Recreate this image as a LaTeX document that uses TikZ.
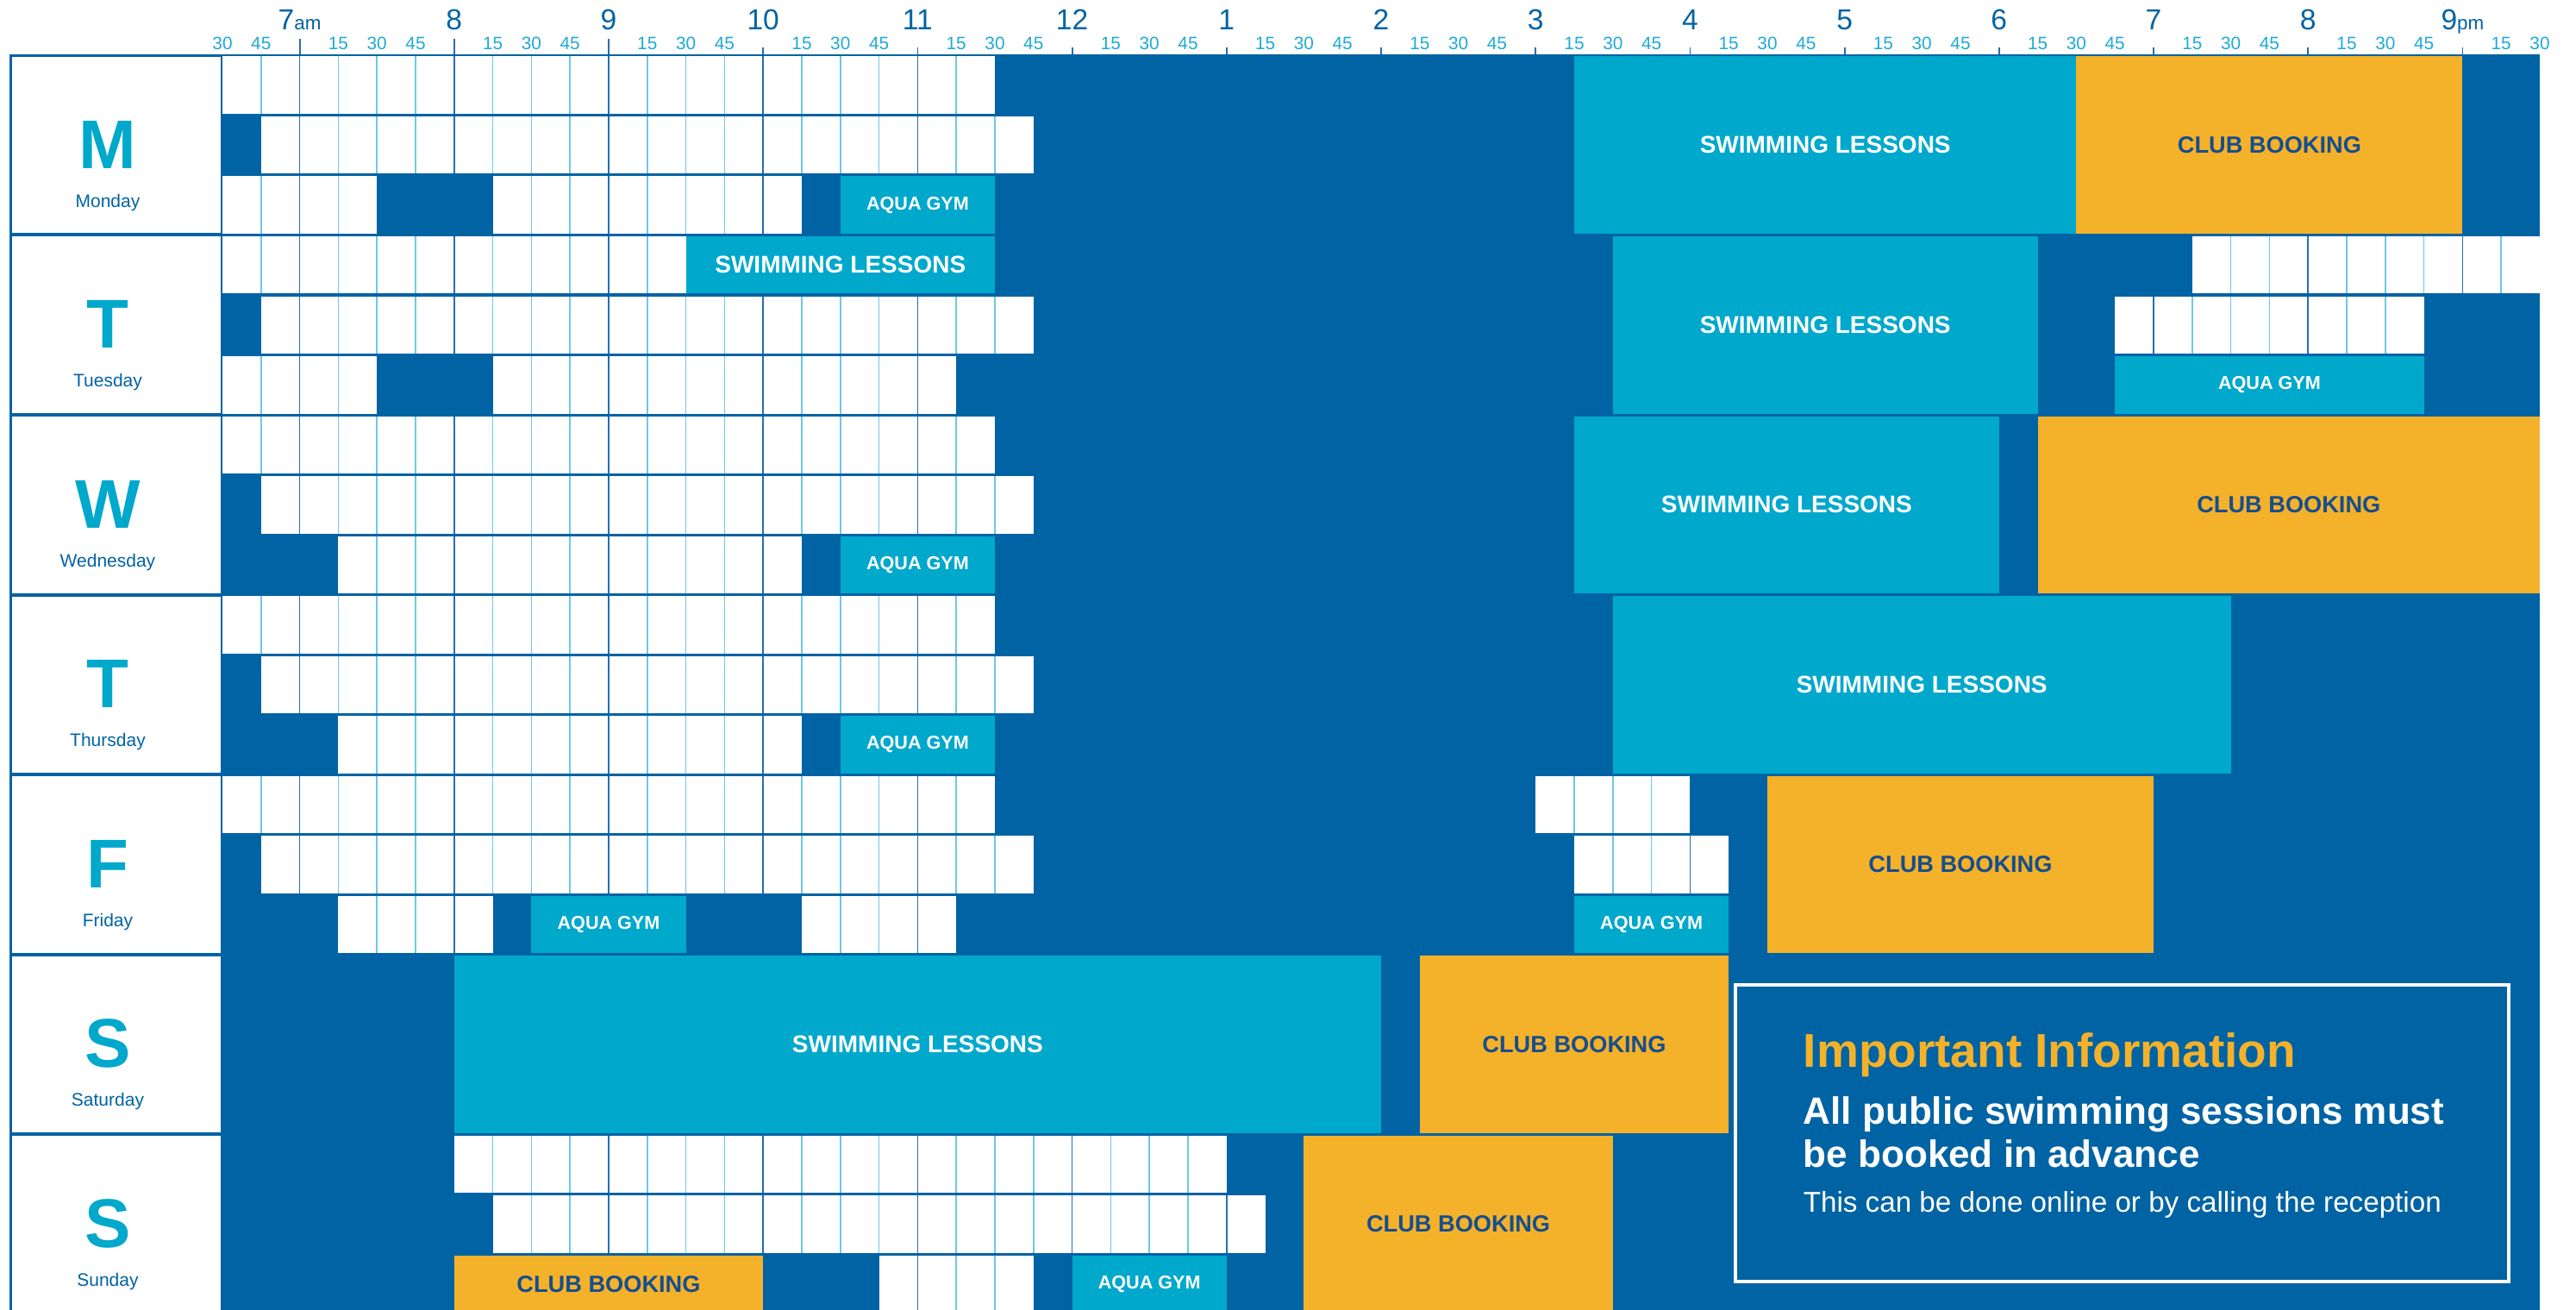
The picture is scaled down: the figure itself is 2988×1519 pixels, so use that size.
\documentclass[tikz,border=0pt]{standalone}
\usepackage{fontspec}
\setmainfont{Liberation Sans}

\definecolor{pooldeep}{RGB}{0,99,164}
\definecolor{poolcyan}{RGB}{0,168,204}
\definecolor{clubgold}{RGB}{244,177,42}
\definecolor{quarterline}{RGB}{110,200,232}
\definecolor{hourline}{RGB}{40,110,175}
\definecolor{clubink}{RGB}{22,78,142}
\definecolor{ticklabel}{RGB}{30,170,215}

\tikzset{
  swim/.style={fill=poolcyan},
  club/.style={fill=clubgold},
  qline/.style={draw=quarterline, line width=0.4pt},
  hline/.style={draw=hourline, line width=0.4pt},
  hourtick/.style={draw=hourline, line width=0.45pt},
  swimlabel/.style={text=white, inner sep=0, font=\bfseries\fontsize{7}{8}\selectfont},
  aqualabel/.style={text=white, inner sep=0, font=\bfseries\fontsize{5.4}{6}\selectfont},
  clublabel/.style={text=clubink, inner sep=0, font=\bfseries\fontsize{6.8}{8}\selectfont},
  dayletter/.style={text=poolcyan, anchor=base, inner sep=0, font=\bfseries\fontsize{20}{22}\selectfont},
  dayname/.style={text=pooldeep, anchor=base, inner sep=0, font=\fontsize{5.25}{6}\selectfont},
  hourlabel/.style={text=pooldeep, anchor=base, inner sep=0, font=\fontsize{8.4}{9}\selectfont},
  quarterlabel/.style={text=ticklabel, anchor=base, inner sep=0, font=\fontsize{5.2}{6}\selectfont},
  infoframe/.style={draw=white, line width=1.15pt},
  infotitle/.style={text=clubgold, anchor=base west, inner sep=0, font=\bfseries\fontsize{13.75}{15}\selectfont},
  infobold/.style={text=white, anchor=base west, inner sep=0, font=\bfseries\fontsize{11}{12}\selectfont},
  infotext/.style={text=white, anchor=base west, inner sep=0, font=\fontsize{8.3}{9}\selectfont}
}

% am / pm after an hour
\newcommand{\ampm}[1]{{\fontsize{5.6}{6}\selectfont #1}}

% white public lane: day, row, first quarter, last quarter (quarters counted from 6:30)
\newcommand{\laneStrip}[4]{%
  \pgfmathsetmacro{\laneTop}{64+208.5*#1+69.5*#2+1.5}
  \fill[white] ({258+44.8*#3},\laneTop) rectangle ({258+44.8*#4},{\laneTop+66.5});
  \pgfmathtruncatemacro{\laneA}{#3+1}
  \pgfmathtruncatemacro{\laneB}{#4-1}
  \foreach \cellq in {\laneA,...,\laneB}{
    \pgfmathtruncatemacro{\cellm}{mod(\cellq+2,4)}
    \ifnum\cellm=0
      \draw[hline] ({258+44.8*\cellq},\laneTop) -- ({258+44.8*\cellq},{\laneTop+66.5});
    \else
      \draw[qline] ({258+44.8*\cellq},\laneTop) -- ({258+44.8*\cellq},{\laneTop+66.5});
    \fi
  }
}

% booked slot: name, day, first row, rows, from, to, fill, label style, text
\newcommand{\dayBlock}[9]{%
  \pgfmathsetmacro{\blkTop}{64+208.5*#2+69.5*#3+1.5}
  \pgfmathsetmacro{\blkBot}{64+208.5*#2+69.5*(#3+#4)-1.5}
  \fill[#7] ({258+44.8*#5},\blkTop) rectangle ({258+44.8*#6},\blkBot);
  \node[#8] (#1) at ({258+44.8*(#5+#6)/2},{(\blkTop+\blkBot)/2}) {#9};
}

\begin{document}
\begin{tikzpicture}[x=0.25pt,y=0.25pt,yscale=-1,xscale=1]
\useasboundingbox (0,0) rectangle (2988,1519);
\clip (0,0) rectangle (2988,1519);

%Shape: Rectangle - page and pool background
\fill[white] (0,0) rectangle (2988,1519);
\fill[pooldeep] (11,63) rectangle (2946,1530);

%Shape: Day column
\foreach \d/\ltr/\dname [count=\k from 0] in {Mon/M/Monday,Tue/T/Tuesday,Wed/W/Wednesday,Thu/T/Thursday,Fri/F/Friday,Sat/S/Saturday,Sun/S/Sunday}{
  \fill[white] (13.5,{64+208.5*\k+2}) rectangle (256,{64+208.5*(\k+1)-2});
  \node[dayletter] (ltr\d) at (125,{64+208.5*\k+131}) {\ltr};
  \node[dayname] (name\d) at (125,{64+208.5*\k+176}) {\dname};
}

%Monday
\laneStrip{0}{0}{0}{20}
\laneStrip{0}{1}{1}{21}
\laneStrip{0}{2}{0}{4}
\laneStrip{0}{2}{7}{15}
\dayBlock{aquaMon}{0}{2}{1}{16}{20}{swim}{aqualabel}{AQUA GYM}
\dayBlock{swimMon}{0}{0}{3}{35}{48}{swim}{swimlabel}{SWIMMING LESSONS}
\dayBlock{clubMon}{0}{0}{3}{48}{58}{club}{clublabel}{CLUB BOOKING}

%Tuesday
\laneStrip{1}{0}{0}{12}
\dayBlock{swimTueAm}{1}{0}{1}{12}{20}{swim}{swimlabel}{SWIMMING LESSONS}
\laneStrip{1}{1}{1}{21}
\laneStrip{1}{2}{0}{4}
\laneStrip{1}{2}{7}{19}
\dayBlock{swimTue}{1}{0}{3}{36}{47}{swim}{swimlabel}{SWIMMING LESSONS}
\laneStrip{1}{0}{51}{60}
\laneStrip{1}{1}{49}{57}
\dayBlock{aquaTue}{1}{2}{1}{49}{57}{swim}{aqualabel}{AQUA GYM}

%Wednesday
\laneStrip{2}{0}{0}{20}
\laneStrip{2}{1}{1}{21}
\laneStrip{2}{2}{3}{15}
\dayBlock{aquaWed}{2}{2}{1}{16}{20}{swim}{aqualabel}{AQUA GYM}
\dayBlock{swimWed}{2}{0}{3}{35}{46}{swim}{swimlabel}{SWIMMING LESSONS}
\dayBlock{clubWed}{2}{0}{3}{47}{60}{club}{clublabel}{CLUB BOOKING}

%Thursday
\laneStrip{3}{0}{0}{20}
\laneStrip{3}{1}{1}{21}
\laneStrip{3}{2}{3}{15}
\dayBlock{aquaThu}{3}{2}{1}{16}{20}{swim}{aqualabel}{AQUA GYM}
\dayBlock{swimThu}{3}{0}{3}{36}{52}{swim}{swimlabel}{SWIMMING LESSONS}

%Friday
\laneStrip{4}{0}{0}{20}
\laneStrip{4}{0}{34}{38}
\laneStrip{4}{1}{1}{21}
\laneStrip{4}{1}{35}{39}
\laneStrip{4}{2}{3}{7}
\laneStrip{4}{2}{15}{19}
\dayBlock{aquaFriAm}{4}{2}{1}{8}{12}{swim}{aqualabel}{AQUA GYM}
\dayBlock{aquaFriPm}{4}{2}{1}{35}{39}{swim}{aqualabel}{AQUA GYM}
\dayBlock{clubFri}{4}{0}{3}{40}{50}{club}{clublabel}{CLUB BOOKING}

%Saturday
\dayBlock{swimSat}{5}{0}{3}{6}{30}{swim}{swimlabel}{SWIMMING LESSONS}
\dayBlock{clubSat}{5}{0}{3}{31}{39}{club}{clublabel}{CLUB BOOKING}

%Sunday
\laneStrip{6}{0}{6}{26}
\laneStrip{6}{1}{7}{27}
\laneStrip{6}{2}{17}{21}
\dayBlock{clubSunAm}{6}{2}{1}{6}{14}{club}{clublabel}{CLUB BOOKING}
\dayBlock{aquaSun}{6}{2}{1}{22}{26}{swim}{aqualabel}{AQUA GYM}
\dayBlock{clubSun}{6}{0}{3}{28}{36}{club}{clublabel}{CLUB BOOKING}

%Shape: Time axis
\foreach \h in {14,18,...,58} \draw[hourtick] ({258+44.8*\h},55) -- ({258+44.8*\h},63);
\foreach \h in {2,6,10} \draw[hourtick] ({258+44.8*\h},45) -- ({258+44.8*\h},63);
\foreach \h/\lbl in {2/{7\ampm{am}},6/8,10/9,14/10,18/11,22/12,26/1,30/2,34/3,38/4,42/5,46/6,50/7,54/8,58/{9\ampm{pm}}}
  \node[hourlabel] (hr\h) at ({258+44.8*\h},35) {\lbl};
\foreach \i in {0,...,60}{
  \pgfmathtruncatemacro{\qm}{mod(\i,4)}
  \ifnum\qm=2\relax\else
    \node[quarterlabel] (qt\i) at ({258+44.8*\i},58) {\ifcase\qm\relax 30\or 45\or\or 15\fi};
  \fi
}

%Shape: Information box
\draw[infoframe] (2013,1142) rectangle (2910,1486);
\node[infotitle] (infoTitle) at (2091,1237) {Important Information};
\node[infobold] (infoLineA) at (2091,1303) {All public swimming sessions must};
\node[infobold] (infoLineB) at (2091,1353) {be booked in advance};
\node[infotext] (infoNote) at (2091,1405) {This can be done online or by calling the reception};

\end{tikzpicture}
\end{document}
